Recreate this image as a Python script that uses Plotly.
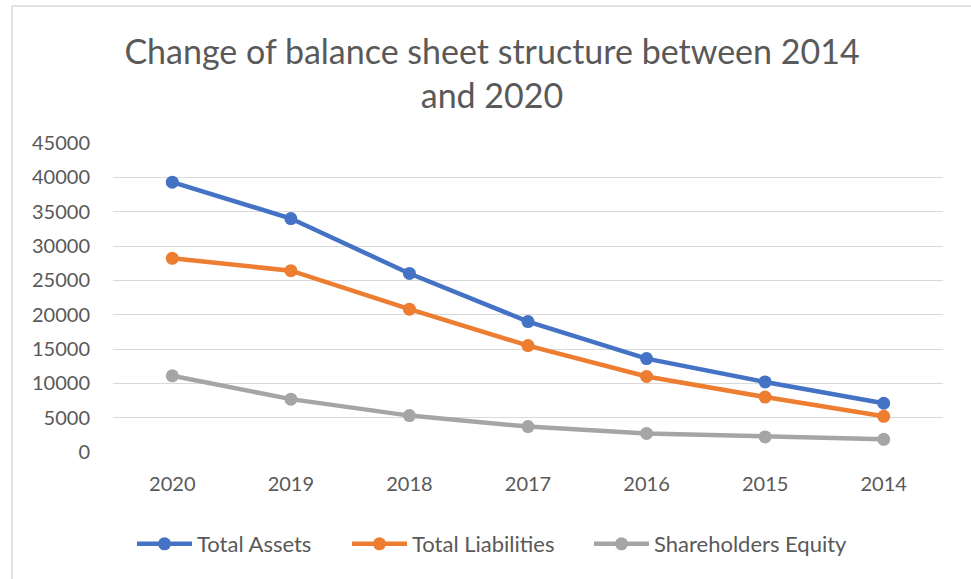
import plotly.graph_objects as go

years = ["2020", "2019", "2018", "2017", "2016", "2015", "2014"]
total_assets = [39300, 34000, 26000, 19000, 13600, 10200, 7100]
total_liabilities = [28200, 26400, 20800, 15500, 11000, 8000, 5200]
shareholders_equity = [11100, 7700, 5300, 3700, 2700, 2200, 1850]
y_ticks = [0, 5000, 10000, 15000, 20000, 25000, 30000, 35000, 40000, 45000]

series = [
    ("Total Assets", total_assets, "#4472C4"),
    ("Total Liabilities", total_liabilities, "#ED7D31"),
    ("Shareholders Equity", shareholders_equity, "#A5A5A5"),
]
legend_ids = ["legend", "legend2", "legend3"]
legend_left_px = [132, 347, 589]

FONT = "Lato, Open Sans, sans-serif"
TXT = "#595959"

W, H = 971, 579
L, R, T, B = 113, 28, 143, 127
pw, ph = W - L - R, H - T - B

def px(x):
    return (x - L) / pw

def py(y):
    return (H - B - y) / ph

fig = go.Figure()
for (name, vals, col), lid in zip(series, legend_ids):
    fig.add_trace(go.Scatter(
        x=years, y=vals, name=name, mode="lines+markers",
        line=dict(color=col, width=4.5),
        marker=dict(color=col, size=13),
        legend=lid,
    ))

legend_layout = {}
for lid, lx in zip(legend_ids, legend_left_px):
    legend_layout[lid] = dict(
        orientation="h", x=px(lx), xanchor="left",
        y=py(544), yanchor="middle",
        font=dict(size=22, color=TXT, family=FONT), itemwidth=55,
        bgcolor="rgba(0,0,0,0)",
    )

fig.update_layout(
    width=W, height=H,
    margin=dict(l=L, r=R, t=T, b=B, autoexpand=False),
    paper_bgcolor="white", plot_bgcolor="white",
    font=dict(family=FONT, color=TXT, size=20),
    title=dict(
        text="Change of balance sheet structure between 2014<br>and 2020",
        x=492 / W, xanchor="center", xref="container",
        y=1 - 64 / H, yanchor="middle", yref="container",
        font=dict(family=FONT, size=34, color=TXT),
    ),
    xaxis=dict(
        type="category", range=[-0.5, 6.5],
        showgrid=False, showline=False, zeroline=False,
        ticks="", tickangle=0, tickfont=dict(size=20, color=TXT),
        ticklabelstandoff=18,
    ),
    yaxis=dict(
        range=[0, 45000], tickvals=y_ticks, ticktext=[str(v) for v in y_ticks],
        showgrid=True, gridcolor="#D9D9D9", gridwidth=1.3,
        zeroline=False, showline=False, ticks="",
        tickfont=dict(size=20, color=TXT), ticklabelstandoff=22,
    ),
    showlegend=True,
    shapes=[
        dict(type="line", xref="paper", yref="paper",
             x0=px(12), x1=px(12), y0=py(6), y1=py(H + 5),
             line=dict(color="#D9D9D9", width=1.5)),
        dict(type="line", xref="paper", yref="paper",
             x0=px(12), x1=px(W + 5), y0=py(6), y1=py(6),
             line=dict(color="#D9D9D9", width=1.5)),
    ],
    **legend_layout,
)

fig.write_html("out.html", config={"displayModeBar": False},
               post_script="document.body.style.margin='0';")
